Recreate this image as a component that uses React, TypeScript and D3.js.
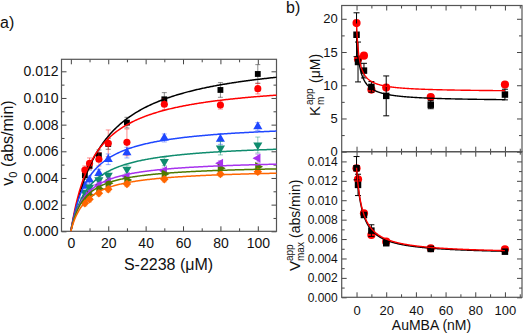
import React, { useRef, useEffect } from 'react';
import * as d3 from 'd3';

// panel a) initial rate vs S-2238, one series per AuMBA level
const substrate = [7.5, 10, 15, 20, 30, 50, 80, 100];
const seriesColors = ['#000000', '#ff0000', '#1f47ff', '#0f8c6e', '#a733ee', '#4d7a00', '#ff6600'];
const seriesShapes = ['square', 'circle', 'up', 'down', 'left', 'right', 'diamond'];

const v0Black = [0.0042, 0.0049, 0.0057, 0.00655, 0.00815, 0.0099, 0.0106, 0.0118];
const v0Red = [0.0046, 0.0051, 0.0054, 0.0066, 0.00667, 0.00953, 0.00947, 0.0107];
const v0Blue = [0.0034, 0.00385, 0.00435, 0.0054, 0.0059, 0.007, 0.00692, 0.00785];
const v0Teal = [0.0029, 0.0033, 0.00385, 0.0042, 0.00465, 0.00522, 0.00623, 0.00647];
const v0Purple = [0.0025, 0.0029, 0.00347, 0.00372, 0.0041, 0.00455, 0.0051, 0.00548];
const v0Green = [0.0024, 0.0027, 0.0032, 0.0036, 0.00385, 0.0043, 0.00473, 0.00485];
const v0Orange = [0.0021, 0.0024, 0.00285, 0.00315, 0.00355, 0.0039, 0.0043, 0.00447];

const errBlack = [0.0003, 0.0003, 0.0004, 0.0004, 0.0004, 0.0005, 0.00055, 0.0007];
const errRed = [0.0003, 0.0004, 0.0005, 0.001, 0.001, 0.0004, 0.0003, 0.0004];
const errBlue = [0.0002, 0.0003, 0.0003, 0.0004, 0.0004, 0.0003, 0.0004, 0.0003];
const errTeal = [0.0002, 0.0002, 0.0003, 0.0003, 0.0003, 0.0003, 0.0005, 0.0006];
const errPurple = [0.0002, 0.0002, 0.0002, 0.0003, 0.0002, 0.0002, 0.0002, 0.0003];
const errGreen = [0.0002, 0.0002, 0.0002, 0.0002, 0.0002, 0.0002, 0.0002, 0.0002];
const errOrange = [0.0002, 0.0002, 0.0002, 0.0002, 0.0002, 0.0002, 0.0002, 0.0002];

// Michaelis-Menten fit parameters of the seven curves
const vmaxFit = [0.0134, 0.0114, 0.0082, 0.0067, 0.0054, 0.005, 0.0047];
const kmFit = [17.6, 12.8, 10, 9.8, 8, 7.5, 8.7];

// panel b) apparent constants vs AuMBA
const auMBA = [0, 1, 5, 10, 20, 50, 100];
const kmBlack = [17.6, 13.5, 12.2, 9.75, 8.4, 7.07, 8.6];
const kmBlackErr = [3.3, 3.0, 1.1, 0.8, 3.0, 0.6, 0.8];
const kmRed = [19.35, 13.9, 14.45, 9.35, 9.65, 8.23, 10.1];
const vmaxBlack = [0.0133, 0.01158, 0.00848, 0.00687, 0.00557, 0.00498, 0.0047];
const vmaxBlackErr = [0.0012, 0.0011, 0.0002, 0.0006, 0.0002, 0.0001, 0.0001];
const vmaxRed = [0.0133, 0.01216, 0.00866, 0.00642, 0.00573, 0.00505, 0.00495];

// hyperbolic decay fits [black, red]: plateau, amplitude, half constant
const kmDecay = [[7.6, 10, 2.35], [9.0, 10.3, 1.8]];
const vmaxDecay = [[0.0044, 0.0089, 4], [0.00445, 0.0089, 4.2]];

const FONT = "'Liberation Sans', Arial, sans-serif";
const steps = (a, b, s) => d3.range(a, b + s / 2, s).map(v => +v.toFixed(6));

function drawFrame(g, x, y, o) {
  const [xl, xr] = x.range();
  const [yb, yt] = y.range();
  const sides = [
    { mk: d3.axisBottom, sc: x, t: `translate(0,${yb})`, major: o.xMajor, minor: o.xMinor, lab: o.xLabels, fmt: o.xFmt, fs: o.xFont, pad: o.xPad },
    { mk: d3.axisTop, sc: x, t: `translate(0,${yt})`, major: o.xMajor, minor: o.xMinor, lab: false },
    { mk: d3.axisLeft, sc: y, t: `translate(${xl},0)`, major: o.yMajor, minor: o.yMinor, lab: true, fmt: o.yFmt, fs: o.yFont, pad: o.yPad },
    { mk: d3.axisRight, sc: y, t: `translate(${xr},0)`, major: o.yMajor, minor: o.yMinor, lab: false },
  ];
  sides.forEach(s => {
    const maj = g.append('g').attr('transform', s.t)
      .call(s.mk(s.sc).tickValues(s.major).tickSize(-5).tickSizeOuter(0).tickPadding(s.pad || 3)
        .tickFormat(s.lab ? s.fmt : () => ''));
    maj.attr('font-family', FONT).attr('font-size', s.fs || 13);
    maj.selectAll('text').attr('fill', '#111');
    const mnr = g.append('g').attr('transform', s.t)
      .call(s.mk(s.sc).tickValues(s.minor).tickSize(-3).tickSizeOuter(0).tickFormat(() => ''));
    [maj, mnr].forEach(a => {
      a.select('.domain').remove();
      a.selectAll('line').attr('stroke', '#444');
    });
  });
  g.append('rect').attr('x', xl).attr('y', yt).attr('width', xr - xl).attr('height', yb - yt)
    .attr('fill', 'none').attr('stroke', '#555').attr('stroke-width', 1.2);
}

function marker(shape, size) {
  const type = shape === 'circle' ? d3.symbolCircle : (shape === 'square' || shape === 'diamond') ? d3.symbolSquare : d3.symbolTriangle;
  return d3.symbol(type, size)();
}
const rotation = { up: 0, down: 180, left: -90, right: 90, diamond: 45, square: 0, circle: 0 };

function drawPoints(g, x, y, xs, ys, errs, color, shape, size, errColor, errOpacity, cap) {
  if (errs) {
    xs.forEach((xv, i) => {
      const cx = x(xv), top = y(ys[i] + errs[i]), bot = y(ys[i] - errs[i]);
      const eg = g.append('g').attr('stroke', errColor).attr('stroke-opacity', errOpacity).attr('stroke-width', 1);
      eg.append('line').attr('x1', cx).attr('x2', cx).attr('y1', top).attr('y2', bot);
      eg.append('line').attr('x1', cx - cap).attr('x2', cx + cap).attr('y1', top).attr('y2', top);
      eg.append('line').attr('x1', cx - cap).attr('x2', cx + cap).attr('y1', bot).attr('y2', bot);
    });
  }
  g.selectAll(null).data(xs).enter().append('path')
    .attr('d', marker(shape, size))
    .attr('transform', (d, i) => `translate(${x(d)},${y(ys[i])}) rotate(${rotation[shape]})`)
    .attr('fill', color);
}

const App = () => {
  const ref = useRef(null);

  useEffect(() => {
    const svg = d3.select(ref.current);
    svg.selectAll('*').remove();
    svg.append('rect').attr('width', 524).attr('height', 333).attr('fill', '#fff');

    // ---------- panel a ----------
    const xa = d3.scaleLinear().domain([-5, 110]).range([61.5, 276.5]);
    const ya = d3.scaleLinear().domain([0, 0.0129]).range([231.3, 59.3]);
    const ga = svg.append('g');
    drawFrame(ga, xa, ya, {
      xMajor: steps(0, 100, 20), xMinor: [10, 30, 50, 70, 90], xLabels: true, xFmt: d3.format('d'), xFont: 14, xPad: 7,
      yMajor: steps(0, 0.012, 0.002), yMinor: steps(0.001, 0.011, 0.002), yFmt: d3.format('.3f'), yFont: 14, yPad: 3,
    });

    const v0 = [v0Black, v0Red, v0Blue, v0Teal, v0Purple, v0Green, v0Orange];
    const errs = [errBlack, errRed, errBlue, errTeal, errPurple, errGreen, errOrange];
    const sGrid = d3.range(0, 110.01, 0.5);
    v0.forEach((vals, k) => {
      drawPoints(ga, xa, ya, substrate, vals, errs[k], seriesColors[k], seriesShapes[k],
        seriesShapes[k] === 'circle' ? 40 : seriesShapes[k] === 'square' ? 34 : 36, seriesColors[k], 0.45, 2.5);
    });
    v0.forEach((vals, k) => {
      const line = d3.line().x(d => xa(d)).y(d => ya(vmaxFit[k] * d / (kmFit[k] + d)));
      ga.append('path').datum(sGrid).attr('d', line).attr('fill', 'none')
        .attr('stroke', seriesColors[k]).attr('stroke-width', 1.5);
    });

    ga.append('text').attr('x', 168.5).attr('y', 270).attr('text-anchor', 'middle')
      .attr('font-family', FONT).attr('font-size', 16).attr('fill', '#111').text('S-2238 (\u03bcM)');
    const ta = ga.append('text').attr('transform', 'translate(13,143) rotate(-90)').attr('text-anchor', 'middle')
      .attr('font-family', FONT).attr('font-size', 16).attr('fill', '#111');
    ta.append('tspan').text('v');
    ta.append('tspan').attr('dy', 4).attr('font-size', 11).text('0');
    ta.append('tspan').attr('dy', -4).text(' (abs/min)');
    svg.append('text').attr('x', 0).attr('y', 28).attr('font-family', FONT).attr('font-size', 16)
      .attr('fill', '#111').text('a)');

    // ---------- panel b ----------
    const xb = d3.scaleLinear().domain([-10, 111.5]).range([341.7, 522]);
    const yk = d3.scaleLinear().domain([0, 22]).range([151.7, 5.5]);
    const yv = d3.scaleLinear().domain([0, 0.015]).range([297.3, 151.7]);
    const gk = svg.append('g');
    const gv = svg.append('g');
    drawFrame(gk, xb, yk, {
      xMajor: steps(0, 100, 20), xMinor: steps(10, 110, 20), xLabels: false,
      yMajor: steps(0, 20, 5), yMinor: steps(2.5, 17.5, 5), yFmt: d3.format('d'), yFont: 13, yPad: 4,
    });
    drawFrame(gv, xb, yv, {
      xMajor: steps(0, 100, 20), xMinor: steps(10, 110, 20), xLabels: true, xFmt: d3.format('d'), xFont: 13, xPad: 8,
      yMajor: steps(0, 0.014, 0.002), yMinor: steps(0.001, 0.013, 0.002), yFmt: d3.format('.3f'), yFont: 12, yPad: 4,
    });

    const aGrid = d3.range(0, 100.01, 0.25);
    const decay = p => d => p[0] + p[1] * p[2] / (p[2] + d);
    drawPoints(gk, xb, yk, auMBA, kmRed, null, '#ff0000', 'circle', 52, '#000', 1, 3);
    drawPoints(gk, xb, yk, auMBA, kmBlack, kmBlackErr, '#000', 'square', 42, '#000', 1, 3);
    [0, 1].forEach(k => {
      const f = decay(kmDecay[k]);
      gk.append('path').datum(aGrid).attr('d', d3.line().x(d => xb(d)).y(d => yk(f(d))))
        .attr('fill', 'none').attr('stroke', k ? '#ff0000' : '#000').attr('stroke-width', 1.4);
    });

    drawPoints(gv, xb, yv, auMBA, vmaxRed, null, '#ff0000', 'circle', 52, '#000', 1, 3);
    drawPoints(gv, xb, yv, auMBA, vmaxBlack, vmaxBlackErr, '#000', 'square', 42, '#000', 1, 3);
    [0, 1].forEach(k => {
      const f = decay(vmaxDecay[k]);
      gv.append('path').datum(aGrid).attr('d', d3.line().x(d => xb(d)).y(d => yv(f(d))))
        .attr('fill', 'none').attr('stroke', k ? '#ff0000' : '#000').attr('stroke-width', 1.4);
    });

    gv.append('text').attr('x', 431.5).attr('y', 330).attr('text-anchor', 'middle')
      .attr('font-family', FONT).attr('font-size', 14).attr('fill', '#111').text('AuMBA (nM)');

    const tk = svg.append('g').attr('transform', 'translate(320,116) rotate(-90)')
      .attr('font-family', FONT).attr('fill', '#111');
    tk.append('text').attr('x', 0).attr('y', 0).attr('font-size', 15).text('K');
    tk.append('text').attr('x', 11).attr('y', -7).attr('font-size', 10).text('app');
    tk.append('text').attr('x', 11).attr('y', 4).attr('font-size', 10).text('m');
    tk.append('text').attr('x', 33).attr('y', 0).attr('font-size', 14).text('(\u03bcM)');

    const tv = svg.append('g').attr('transform', 'translate(300,271) rotate(-90)')
      .attr('font-family', FONT).attr('fill', '#111');
    tv.append('text').attr('x', 0).attr('y', 0).attr('font-size', 15).text('V');
    tv.append('text').attr('x', 10).attr('y', -7).attr('font-size', 10).text('app');
    tv.append('text').attr('x', 10).attr('y', 4).attr('font-size', 10).text('max');
    tv.append('text').attr('x', 33).attr('y', 0).attr('font-size', 14).text('(abs/min)');

    svg.append('text').attr('x', 286).attr('y', 13).attr('font-family', FONT).attr('font-size', 16)
      .attr('fill', '#111').text('b)');
  }, []);

  return (
    <svg ref={ref} width={524} height={333}
      style={{ position: 'absolute', left: 0, top: 0, display: 'block' }} />
  );
};

export default App;
